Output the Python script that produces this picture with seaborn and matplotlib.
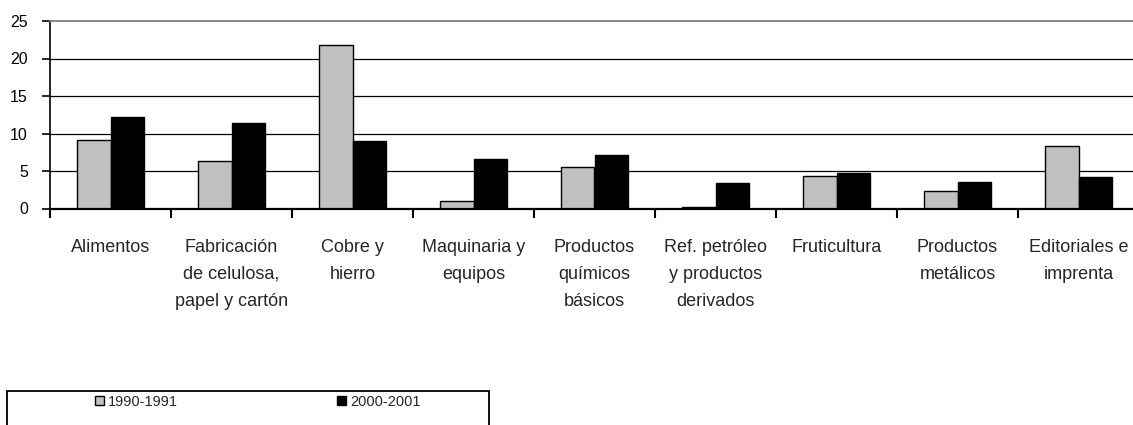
import pandas as pd
import matplotlib
matplotlib.use("Agg")
import matplotlib.pyplot as plt
import seaborn as sns
from matplotlib.patches import Patch, Rectangle
from matplotlib.ticker import FixedLocator

# =========================
# DATA
# =========================

categories = [
    "Alimentos",
    "Fabricación\nde celulosa,\npapel y cartón",
    "Cobre y\nhierro",
    "Maquinaria y\nequipos",
    "Productos\nquímicos\nbásicos",
    "Ref. petróleo\ny productos\nderivados",
    "Fruticultura",
    "Productos\nmetálicos",
    "Editoriales e\nimprenta",
]
periods = ["1990-1991", "2000-2001"]
values_1990 = [9.2, 6.3, 21.8, 1.0, 5.5, 0.2, 4.4, 2.3, 8.4]
values_2000 = [12.2, 11.4, 9.0, 6.6, 7.1, 3.4, 4.7, 3.6, 4.2]
colors = ["#c0c0c0", "#000000"]

df = pd.DataFrame({
    "Sector": categories * 2,
    "Periodo": [periods[0]] * len(categories) + [periods[1]] * len(categories),
    "Valor": values_1990 + values_2000,
})

# =========================
# STYLE
# =========================

sns.set_style("white")
plt.rcParams["font.family"] = ["Liberation Sans", "DejaVu Sans"]

fig = plt.figure(figsize=(11.33, 4.25), dpi=100)
ax = fig.add_axes([50 / 1133, 1 - 208.5 / 425, 1089 / 1133, 187.5 / 425])

# =========================
# BAR PLOT
# =========================

sns.barplot(
    data=df,
    x="Sector",
    y="Valor",
    hue="Periodo",
    hue_order=periods,
    palette=colors,
    width=0.56,
    edgecolor="black",
    linewidth=1,
    legend=False,
    ax=ax,
)

ax.set_ylim(0, 25)
ax.set_xlim(-0.5, 8.5)
ax.set_yticks([0, 5, 10, 15, 20, 25])
ax.set_xlabel("")
ax.set_ylabel("")

# gridlines
for y in [5, 10, 15, 20]:
    ax.axhline(y, color="black", linewidth=0.9, zorder=0)

# spines
ax.spines["left"].set_color("black")
ax.spines["left"].set_linewidth(1.2)
ax.spines["bottom"].set_color("black")
ax.spines["bottom"].set_linewidth(1.6)
ax.spines["top"].set_color("#808080")
ax.spines["top"].set_linewidth(1.3)
ax.spines["right"].set_visible(False)

# ticks
ax.tick_params(axis="y", direction="out", length=6, width=1.2, pad=10,
               labelsize=11.5, left=True, colors="black")
ax.tick_params(axis="x", which="major", length=0, pad=22, labelsize=13)
ax.xaxis.set_minor_locator(FixedLocator([i - 0.5 for i in range(10)]))
ax.tick_params(axis="x", which="minor", direction="out", length=6.5, width=1.5,
               bottom=True, color="black")

for lbl in ax.get_xticklabels():
    lbl.set_linespacing(1.75)
    lbl.set_verticalalignment("top")

# =========================
# LEGEND
# =========================

fig.add_artist(Rectangle(
    (7 / 1133, -0.05), 482 / 1133, 0.05 + (1 - 391 / 425),
    transform=fig.transFigure, fill=False, edgecolor="black", linewidth=1.3,
))

handles = [Patch(facecolor=c, edgecolor="black", linewidth=1) for c in colors]
fig.legend(
    handles, periods,
    loc="center left",
    bbox_to_anchor=(95 / 1133, 1 - 402 / 425),
    ncol=2,
    frameon=False,
    fontsize=10.5,
    handlelength=0.6,
    handleheight=0.6,
    handletextpad=0.3,
    columnspacing=10.9,
    borderpad=0,
    borderaxespad=0,
)

plt.savefig("out.png", dpi=100)
plt.close()
